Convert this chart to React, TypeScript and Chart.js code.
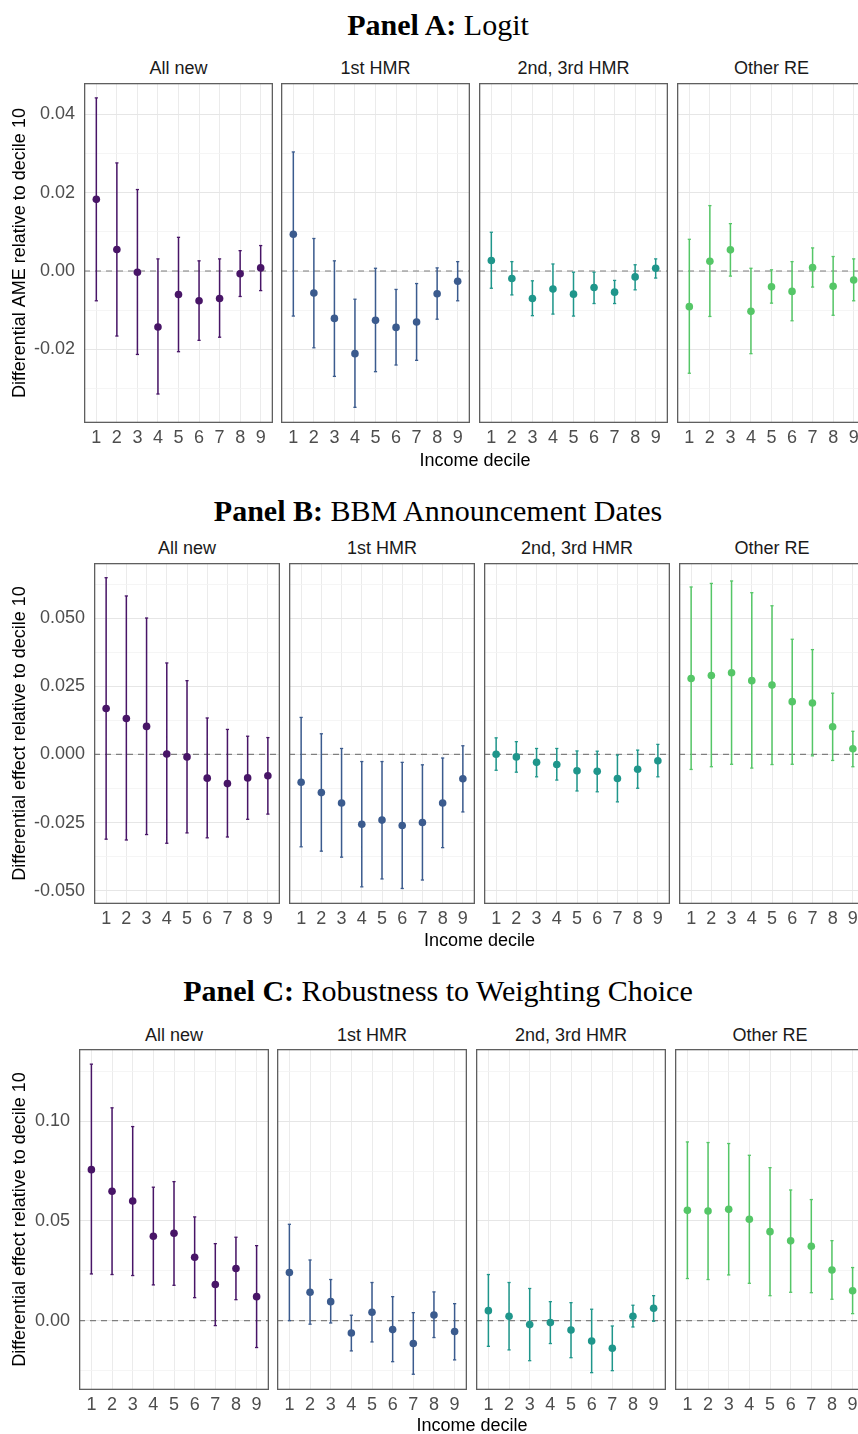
import React, { useEffect, useRef } from "react";
import { Chart, registerables } from "chart.js";

Chart.register(...registerables);
Chart.defaults.font.family = "'Liberation Sans', Arial, Helvetica, sans-serif";

// ---------------- DATA ----------------
const deciles = [1, 2, 3, 4, 5, 6, 7, 8, 9];
const facetNames = ["All new", "1st HMR", "2nd, 3rd HMR", "Other RE"];
const facetColors = ["#481567", "#3B5B8E", "#1F968B", "#55C667"];
const xAxisTitle = "Income decile";

// Panel A: Logit
const aAllNewEst = [0.0183, 0.0055, -0.0003, -0.0143, -0.006, -0.0076, -0.007, -0.0007, 0.0008];
const aAllNewLo = [-0.0076, -0.0166, -0.0213, -0.0314, -0.0206, -0.0177, -0.0169, -0.0065, -0.005];
const aAllNewHi = [0.0442, 0.0276, 0.0208, 0.0031, 0.0086, 0.0026, 0.0031, 0.0052, 0.0065];
const aFirstEst = [0.0094, -0.0056, -0.0121, -0.0211, -0.0126, -0.0144, -0.013, -0.0058, -0.0026];
const aFirstLo = [-0.0115, -0.0196, -0.0269, -0.0348, -0.0257, -0.024, -0.0228, -0.0123, -0.0076];
const aFirstHi = [0.0304, 0.0083, 0.0026, -0.0072, 0.0007, -0.0047, -0.0032, 0.0008, 0.0024];
const aSecondEst = [0.0027, -0.0019, -0.007, -0.0046, -0.0059, -0.0042, -0.0054, -0.0015, 0.0007];
const aSecondLo = [-0.0044, -0.0061, -0.0114, -0.011, -0.0115, -0.0083, -0.0083, -0.0048, -0.0018];
const aSecondHi = [0.0099, 0.0024, -0.0025, 0.0018, -0.0003, -0.0003, -0.0024, 0.0016, 0.0031];
const aOtherEst = [-0.0091, 0.0025, 0.0054, -0.0103, -0.004, -0.0052, 0.0009, -0.0039, -0.0023];
const aOtherLo = [-0.0261, -0.0116, -0.0013, -0.0211, -0.0082, -0.0127, -0.0041, -0.0113, -0.0076];
const aOtherHi = [0.0081, 0.0167, 0.0121, 0.0007, 0.0003, 0.0024, 0.0059, 0.0037, 0.0031];

// Panel B: BBM Announcement Dates
const bAllNewEst = [0.0169, 0.0132, 0.0103, 0.0002, -0.0009, -0.0087, -0.0107, -0.0086, -0.0078];
const bAllNewLo = [-0.0311, -0.0314, -0.0294, -0.0326, -0.0288, -0.0306, -0.0303, -0.0238, -0.0219];
const bAllNewHi = [0.0649, 0.0582, 0.0501, 0.0336, 0.0271, 0.0134, 0.0092, 0.0067, 0.0062];
const bFirstEst = [-0.0102, -0.014, -0.0178, -0.0256, -0.0241, -0.0261, -0.025, -0.0178, -0.0089];
const bFirstLo = [-0.0339, -0.0355, -0.0377, -0.0486, -0.0457, -0.0492, -0.0461, -0.0342, -0.0211];
const bFirstHi = [0.0136, 0.0076, 0.0022, -0.0026, -0.0026, -0.0029, -0.0038, -0.0013, 0.0032];
const bSecondEst = [0.0001, -0.0009, -0.0029, -0.0037, -0.006, -0.0062, -0.0088, -0.0054, -0.0023];
const bSecondLo = [-0.0058, -0.0065, -0.0082, -0.0094, -0.0134, -0.0137, -0.0174, -0.0124, -0.0082];
const bSecondHi = [0.0061, 0.0047, 0.0022, 0.0022, 0.0013, 0.0012, -0.0002, 0.0016, 0.0037];
const bOtherEst = [0.0279, 0.029, 0.03, 0.0271, 0.0255, 0.0194, 0.0189, 0.0102, 0.0021];
const bOtherLo = [-0.0055, -0.0045, -0.0036, -0.005, -0.0037, -0.0036, -0.0005, -0.0022, -0.0045];
const bOtherHi = [0.0615, 0.0628, 0.0637, 0.0594, 0.0546, 0.0423, 0.0385, 0.0225, 0.0085];

// Panel C: Robustness to Weighting Choice
const cAllNewEst = [0.0757, 0.0649, 0.06, 0.0423, 0.0438, 0.0318, 0.0181, 0.0261, 0.012];
const cAllNewLo = [0.0234, 0.0231, 0.0226, 0.0179, 0.0177, 0.0115, -0.0025, 0.0105, -0.0135];
const cAllNewHi = [0.1286, 0.1067, 0.0973, 0.0669, 0.0697, 0.052, 0.0386, 0.0418, 0.0376];
const cFirstEst = [0.0241, 0.0142, 0.0095, -0.0062, 0.0042, -0.0045, -0.0115, 0.0028, -0.0055];
const cFirstLo = [0.0, -0.0018, -0.0012, -0.0152, -0.0107, -0.0206, -0.0269, -0.0085, -0.0197];
const cFirstHi = [0.0483, 0.0304, 0.0206, 0.0027, 0.0191, 0.012, 0.004, 0.0144, 0.0085];
const cSecondEst = [0.005, 0.0022, -0.002, -0.001, -0.0047, -0.0102, -0.0139, 0.0022, 0.0062];
const cSecondLo = [-0.0129, -0.0147, -0.0201, -0.0115, -0.0186, -0.0261, -0.0251, -0.0032, -0.0003];
const cSecondHi = [0.0231, 0.0191, 0.0161, 0.0095, 0.009, 0.0057, -0.0027, 0.0077, 0.0125];
const cOtherEst = [0.0553, 0.055, 0.0558, 0.0508, 0.0446, 0.04, 0.0373, 0.0254, 0.015];
const cOtherLo = [0.0211, 0.0206, 0.0229, 0.0187, 0.0125, 0.0142, 0.014, 0.0107, 0.0035];
const cOtherHi = [0.0896, 0.0893, 0.0888, 0.0829, 0.0767, 0.0655, 0.0607, 0.0401, 0.0266];

// Y axis ticks
const aYMajor = [-0.02, 0, 0.02, 0.04];
const aYLabels = ["-0.02", "0.00", "0.02", "0.04"];
const aYMinor = [-0.03, -0.01, 0.01, 0.03];
const bYMajor = [-0.05, -0.025, 0, 0.025, 0.05];
const bYLabels = ["-0.050", "-0.025", "0.000", "0.025", "0.050"];
const bYMinor = [-0.0375, -0.0125, 0.0125, 0.0375, 0.0625];
const cYMajor = [0, 0.05, 0.1];
const cYLabels = ["0.00", "0.05", "0.10"];
const cYMinor = [-0.025, 0.025, 0.075, 0.125];

// ---------------- PANEL CONFIG ----------------
const X_MIN = 0.4;
const X_MAX = 9.6;
const X_AXIS_H = 32;

const panels = [
  {
    bold: "Panel A:",
    rest: "Logit",
    yTitle: "Differential AME relative to decile 10",
    facets: [
      { est: aAllNewEst, lo: aAllNewLo, hi: aAllNewHi },
      { est: aFirstEst, lo: aFirstLo, hi: aFirstHi },
      { est: aSecondEst, lo: aSecondLo, hi: aSecondHi },
      { est: aOtherEst, lo: aOtherLo, hi: aOtherHi },
    ],
    yMajor: aYMajor, yLabels: aYLabels, yMinor: aYMinor,
    yMin: -0.0388, yMax: 0.048,
    layout: { titleBase: 35, strip: 68, top: 83, bottom: 423, lefts: [84, 281, 479, 677], width: 189, xTitle: 460 },
  },
  {
    bold: "Panel B:",
    rest: "BBM Announcement Dates",
    yTitle: "Differential effect relative to decile 10",
    facets: [
      { est: bAllNewEst, lo: bAllNewLo, hi: bAllNewHi },
      { est: bFirstEst, lo: bFirstLo, hi: bFirstHi },
      { est: bSecondEst, lo: bSecondLo, hi: bSecondHi },
      { est: bOtherEst, lo: bOtherLo, hi: bOtherHi },
    ],
    yMajor: bYMajor, yLabels: bYLabels, yMinor: bYMinor,
    yMin: -0.0549, yMax: 0.0703,
    layout: { titleBase: 521, strip: 548, top: 563, bottom: 904, lefts: [94, 289, 484, 679], width: 186, xTitle: 940 },
  },
  {
    bold: "Panel C:",
    rest: "Robustness to Weighting Choice",
    yTitle: "Differential effect relative to decile 10",
    facets: [
      { est: cAllNewEst, lo: cAllNewLo, hi: cAllNewHi },
      { est: cFirstEst, lo: cFirstLo, hi: cFirstHi },
      { est: cSecondEst, lo: cSecondLo, hi: cSecondHi },
      { est: cOtherEst, lo: cOtherLo, hi: cOtherHi },
    ],
    yMajor: cYMajor, yLabels: cYLabels, yMinor: cYMinor,
    yMin: -0.0348, yMax: 0.1362,
    layout: { titleBase: 1001, strip: 1035, top: 1049, bottom: 1390, lefts: [79, 277, 476, 675], width: 190, xTitle: 1425 },
  },
];

const borderPlugin = {
  id: "panelBorder",
  afterDraw(chart: any) {
    const { left, top, right, bottom } = chart.chartArea;
    const ctx = chart.ctx;
    ctx.save();
    ctx.strokeStyle = "#5f5f5f";
    ctx.lineWidth = 1.3;
    ctx.strokeRect(left + 0.65, top + 0.65, right - left - 1.3, bottom - top - 1.3);
    ctx.restore();
  },
};

function Facet({ panel, idx }: { panel: any; idx: number }) {
  const ref = useRef<HTMLCanvasElement>(null);
  const L = panel.layout;
  const first = idx === 0;
  const left = L.lefts[idx];
  const canvasLeft = first ? 0 : left;
  const width = first ? left + L.width : L.width;
  const height = L.bottom - L.top + X_AXIS_H;

  useEffect(() => {
    const f = panel.facets[idx];
    const color = facetColors[idx];
    const allY = [...panel.yMajor, ...panel.yMinor].sort((a: number, b: number) => a - b);
    const majorIndex = (v: number) => panel.yMajor.findIndex((m: number) => Math.abs(m - v) < 1e-9);

    const chart = new Chart(ref.current as HTMLCanvasElement, {
      type: "line",
      data: {
        datasets: [
          {
            data: deciles.map((d, i) => ({ x: d, y: f.est[i] })),
            showLine: false,
            pointRadius: 3.8,
            pointBackgroundColor: color,
            pointBorderWidth: 0,
            borderColor: color,
            order: 0,
          },
          {
            data: deciles.flatMap((d, i) => [{ x: d, y: f.lo[i] }, { x: d, y: f.hi[i] }]),
            showLine: false,
            pointStyle: "line",
            pointRadius: 1.6,
            pointBorderColor: color,
            pointBorderWidth: 1.3,
            borderColor: color,
            order: 1,
          },
          {
            data: deciles.flatMap((d, i) => [
              { x: d, y: f.lo[i] },
              { x: d, y: f.hi[i] },
              { x: d, y: null },
            ]),
            borderColor: color,
            borderWidth: 1.5,
            pointRadius: 0,
            spanGaps: false,
            order: 2,
          },
          {
            data: [{ x: X_MIN, y: 0 }, { x: X_MAX, y: 0 }],
            borderColor: "#7f7f7f",
            borderWidth: 1.2,
            borderDash: [6, 5],
            pointRadius: 0,
            order: 3,
          },
        ] as any,
      },
      options: {
        animation: false,
        responsive: false,
        devicePixelRatio: 1,
        events: [],
        layout: { padding: 0, autoPadding: false },
        plugins: { legend: { display: false }, tooltip: { enabled: false }, title: { display: false } },
        scales: {
          x: {
            type: "linear",
            min: X_MIN,
            max: X_MAX,
            afterBuildTicks: (s: any) => {
              s.ticks = deciles.map((v) => ({ value: v }));
            },
            afterFit: (s: any) => {
              s.height = X_AXIS_H;
              s.paddingLeft = 0;
              s.paddingRight = 0;
              s.paddingTop = 0;
              s.paddingBottom = 0;
            },
            ticks: {
              autoSkip: false,
              maxRotation: 0,
              minRotation: 0,
              color: "#4d4d4d",
              font: { size: 18 },
              padding: 4,
              callback: (v: any) => String(v),
            },
            grid: { color: "#ebebeb", lineWidth: 1, drawTicks: false },
            border: { display: false },
          },
          y: {
            type: "linear",
            min: panel.yMin,
            max: panel.yMax,
            afterBuildTicks: (s: any) => {
              s.ticks = allY.map((v: number) => ({ value: v }));
            },
            afterFit: (s: any) => {
              s.width = first ? left : 0;
              s.paddingLeft = 0;
              s.paddingRight = 0;
              s.paddingTop = 0;
              s.paddingBottom = 0;
            },
            ticks: {
              display: first,
              autoSkip: false,
              color: "#4d4d4d",
              font: { size: 18 },
              padding: 9,
              callback: (v: any) => {
                const k = majorIndex(Number(v));
                return k >= 0 ? panel.yLabels[k] : "";
              },
            },
            grid: {
              color: (ctx: any) => (majorIndex(ctx.tick.value) >= 0 ? "#e6e6e6" : "#f3f3f3"),
              lineWidth: (ctx: any) => (majorIndex(ctx.tick.value) >= 0 ? 1 : 0.8),
              drawTicks: false,
            },
            border: { display: false },
            title: first
              ? { display: true, text: panel.yTitle, color: "#000000", font: { size: 18 }, padding: { top: 9, bottom: 0 } }
              : { display: false },
          },
        },
      } as any,
      plugins: [borderPlugin],
    });
    return () => chart.destroy();
  }, []);

  return (
    <canvas
      ref={ref}
      width={width}
      height={height}
      style={{ position: "absolute", left: canvasLeft, top: L.top, width, height }}
    />
  );
}

function Panel({ panel }: { panel: any }) {
  const L = panel.layout;
  const plotLeft = L.lefts[0];
  const plotRight = L.lefts[3] + L.width;
  const xCenter = (plotLeft + plotRight) / 2;
  return (
    <>
      <div
        style={{
          position: "absolute",
          left: 438 - 400,
          width: 800,
          top: L.titleBase - 25,
          textAlign: "center",
          fontFamily: "'Liberation Serif', 'Times New Roman', serif",
          fontSize: 30,
          lineHeight: "30px",
          color: "#000",
          whiteSpace: "nowrap",
        }}
      >
        <b>{panel.bold}</b> {panel.rest}
      </div>
      {facetNames.map((name, i) => (
        <div
          key={"s" + i}
          style={{
            position: "absolute",
            left: L.lefts[i],
            width: L.width,
            top: L.strip - 11,
            lineHeight: "22px",
            textAlign: "center",
            fontFamily: "'Liberation Sans', Arial, sans-serif",
            fontSize: 18,
            color: "#1a1a1a",
            whiteSpace: "nowrap",
          }}
        >
          {name}
        </div>
      ))}
      {facetNames.map((_, i) => (
        <Facet key={"f" + i} panel={panel} idx={i} />
      ))}
      <div
        style={{
          position: "absolute",
          left: xCenter - 150,
          width: 300,
          top: L.xTitle - 11,
          lineHeight: "22px",
          textAlign: "center",
          fontFamily: "'Liberation Sans', Arial, sans-serif",
          fontSize: 18,
          color: "#000",
          whiteSpace: "nowrap",
        }}
      >
        {xAxisTitle}
      </div>
    </>
  );
}

export default function App() {
  return (
    <div
      style={{
        position: "absolute",
        left: 0,
        top: 0,
        width: 858,
        height: 1434,
        overflow: "hidden",
        background: "#ffffff",
      }}
    >
      {panels.map((p, i) => (
        <Panel key={i} panel={p} />
      ))}
    </div>
  );
}
